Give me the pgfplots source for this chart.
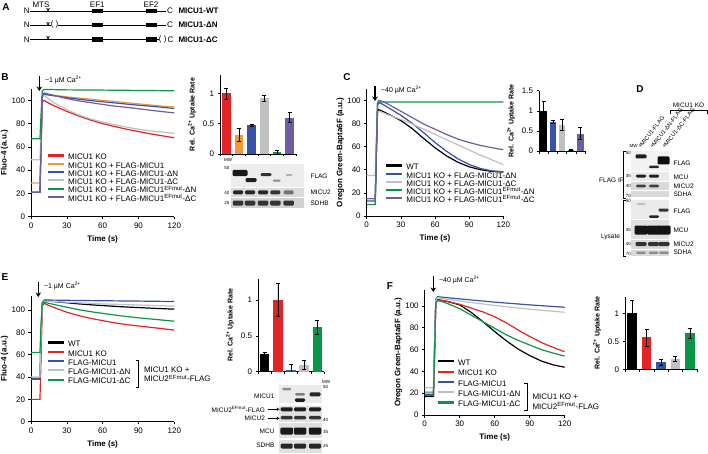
\documentclass[border=0pt]{standalone}
\usepackage{fontspec}
\setmainfont{Liberation Sans}
\usepackage{pgfplots}
\pgfplotsset{compat=1.18}
\usetikzlibrary{arrows.meta}

\definecolor{cred}{RGB}{226,36,36}
\definecolor{corange}{RGB}{242,152,58}
\definecolor{cblue}{RGB}{56,82,165}
\definecolor{cgray}{RGB}{192,192,192}
\definecolor{cgreen}{RGB}{10,150,70}
\definecolor{cpurple}{RGB}{112,92,160}

\newcommand{\efm}{\textsuperscript{EFmut}}
\newcommand{\cat}{Ca\textsuperscript{2+}}
\newcommand{\band}[5]{\fill[black!#5,rounded corners=1.2pt] ({#1-#3/2},{#2-#4/2}) rectangle ({#1+#3/2},{#2+#4/2});}

\pgfplotsset{
  base/.style={scale only axis, axis lines=left, axis line style={-,line width=0.6pt},
    tick style={black,line width=0.6pt}, tick align=outside, major tick length=2.5pt,
    font=\fontsize{8}{9}\selectfont, /pgf/number format/assume math mode=true, ymin=0},
  trace/.style={base, xmin=0, xmax=120, xtick={0,30,60,90,120}, ytick={0,20,...,100},
    xlabel={\bfseries Time (s)}, ylabel shift=-3.5pt, every axis plot/.append style={line width=1.2pt},
    legend cell align=left,
    legend image code/.code={\draw[##1,line width=2.2pt] (0pt,2.2pt) -- (16pt,2.2pt);},
    legend style={draw=none, fill=none, font=\fontsize{8}{8}\selectfont, inner sep=0pt,
      column sep=3pt, nodes={inner sep=0pt, text height=5.6pt, text depth=1.4pt}, anchor=north west}},
  rate/.style={base, xmin=0.5, xticklabels={}, ytick={0,0.5,1},
    ylabel={\bfseries\fontsize{7}{8}\selectfont Rel. \cat{} Uptake Rate}},
  rbar/.style={ybar, fill=#1, draw=none, bar shift=0pt,
    error bars/y dir=both, error bars/y explicit,
    error bars/error bar style={black,line width=0.5pt},
    error bars/error mark options={black,rotate=90,mark size=2pt,line width=0.5pt}}
}

\begin{document}
\begin{tikzpicture}
\useasboundingbox (0,0) rectangle (708pt,453pt);

% ---------------- B traces
\begin{axis}[trace, at={(31pt,236.3pt)}, anchor=south west, width=143.3pt, height=128pt, ymax=110,
  ylabel={\bfseries Fluo-4 (a.u.)}, legend style={at={(0.11,0.49)}, row sep=1.3pt}]
\addplot[cred] coordinates {(0,21)(7.5,21)(8.5,60)(9.5,99)(11,100)(15,97.5)(20,95)(30,90.5)(40,86.5)(50,83)(60,80)(70,77.5)(80,75.2)(90,73.2)(100,71.2)(110,69.5)(120,67.8)};
\addplot[corange] coordinates {(0,29)(7.5,29)(8.5,70)(9.5,104)(11,106)(15,105)(20,104.3)(30,103)(40,102)(50,101)(60,100)(70,99)(80,98)(90,97)(100,96)(110,95)(120,94.3)};
\addplot[cblue] coordinates {(0,21)(7.5,21)(8.5,65)(9.5,103)(11,105.2)(15,104.5)(20,103.8)(30,102.3)(40,101)(50,99.8)(60,98.8)(70,97.8)(80,96.8)(90,95.8)(100,95)(110,94)(120,93)};
\addplot[cgray] coordinates {(0,49)(7.5,49)(8.5,80)(9.5,103)(11,104.3)(15,101)(20,97.5)(30,92)(40,87.5)(50,84)(60,81.3)(70,79)(80,77)(90,75.2)(100,73.8)(110,72.7)(120,71.7)};
\addplot[cgreen] coordinates {(0,67)(7.5,67)(8.5,90)(9.5,108)(11,109.3)(15,109.3)(30,109)(60,108.8)(90,108.5)(120,108.2)};
\addplot[cpurple] coordinates {(0,21)(7.5,21)(8.5,65)(9.5,104)(11,106.3)(15,105.3)(20,104)(30,101.5)(40,99.5)(50,98)(60,96.5)(70,95)(80,94)(90,92.8)(100,91.5)(110,90.3)(120,89.2)};
\legend{MICU1 KO, MICU1 KO + FLAG-MICU1, MICU1 KO + FLAG-MICU1-ΔN, MICU1 KO + FLAG-MICU1-ΔC, MICU1 KO + FLAG-MICU1\efm-ΔN, MICU1 KO + FLAG-MICU1\efm-ΔC}
\end{axis}

% ---------------- B rates
\begin{axis}[rate, at={(220pt,299pt)}, anchor=south west, width=76pt, height=78.9pt,
  xmax=6.5, ymax=1.3, xtick={0.5,1.5,...,6.5}, bar width=8.5pt]
\addplot[rbar=cred] coordinates {(1,1.0) +- (0,0.09)};
\addplot[rbar=corange] coordinates {(2,0.32) +- (0,0.11)};
\addplot[rbar=cblue] coordinates {(3,0.47) +- (0,0.02)};
\addplot[rbar=cgray] coordinates {(4,0.92) +- (0,0.05)};
\addplot[rbar=cgreen] coordinates {(5,0.03) +- (0,0.03)};
\addplot[rbar=cpurple] coordinates {(6,0.60) +- (0,0.08)};
\end{axis}

% ---------------- C traces
\begin{axis}[trace, at={(366.7pt,237pt)}, anchor=south west, width=136.6pt, height=127.3pt, ymax=110,
  ylabel={\bfseries Oregon Green-Bapta6F (a.u.)}, legend style={at={(0.134,0.408)}, row sep=1.2pt}]
\addplot[black] coordinates {(0,15)(7.5,15)(8.5,55)(9.5,90)(10.5,92)(15,90)(20,87.5)(30,82.5)(40,75.5)(50,67)(60,59)(70,52)(80,46.5)(90,42.5)(100,40)(110,38.5)(120,38)};
\addplot[cblue] coordinates {(0,13)(7.5,13)(8.5,55)(9.5,96)(11,98)(15,96)(20,93)(30,87)(40,80)(50,72)(60,63.5)(70,56)(80,49.5)(90,44.5)(100,41)(110,39)(120,38.3)};
\addplot[cgray] coordinates {(0,35)(7.5,35)(8.5,70)(9.5,89)(11,90.5)(15,89)(20,87)(30,83.5)(40,79.5)(50,75)(60,70.5)(70,66)(80,61.5)(90,57)(100,52.5)(110,48.5)(120,44.5)};
\addplot[cgreen] coordinates {(0,10)(7.5,10)(8.5,55)(9.5,97)(11,98.5)(30,98.5)(60,98.5)(90,98.5)(120,98.5)};
\addplot[cpurple] coordinates {(0,15)(7.5,15)(8.5,60)(9.5,98)(11,100)(15,98.5)(20,96)(30,90.5)(40,85)(50,79.5)(60,75)(70,70.5)(80,66.5)(90,63.5)(100,61)(110,59)(120,57.3)};
\legend{WT, MICU1 KO + FLAG-MICU1-ΔN, MICU1 KO + FLAG-MICU1-ΔC, MICU1 KO + FLAG-MICU1\efm-ΔN, MICU1 KO + FLAG-MICU1\efm-ΔC}
\end{axis}

% ---------------- C rates
\begin{axis}[rate, at={(539pt,302pt)}, anchor=south west, width=46pt, height=60.3pt,
  xmax=5.5, ymax=1.5, xtick={0.5,1.5,...,5.5}, ytick={0,0.5,1,1.5}, bar width=6.5pt]
\addplot[rbar=black] coordinates {(1,1.0) +- (0,0.23)};
\addplot[rbar=cblue] coordinates {(2,0.72) +- (0,0.04)};
\addplot[rbar=cgray] coordinates {(3,0.65) +- (0,0.13)};
\addplot[rbar=cgreen] coordinates {(4,0.03) +- (0,0.02)};
\addplot[rbar=cpurple] coordinates {(5,0.43) +- (0,0.15)};
\end{axis}

% ---------------- E traces
\begin{axis}[trace, at={(31pt,31.3pt)}, anchor=south west, width=143.3pt, height=126.2pt, ymax=113,
  ylabel={\bfseries Fluo-4 (a.u.)}, legend style={at={(0.11,0.64)}, row sep=2.3pt}]
\addplot[black] coordinates {(0,39)(7.5,39)(8.5,80)(9.5,106)(11,108.5)(15,108)(20,107.5)(30,106.5)(40,105.5)(50,104.7)(60,104)(70,103.3)(80,102.7)(90,102.2)(100,101.7)(110,101.2)(120,100.8)};
\addplot[cred] coordinates {(0,20)(7.5,20)(8.5,60)(9.5,104)(11,106)(15,104)(20,102)(30,98)(40,95)(50,92.5)(60,90.5)(70,88.5)(80,87)(90,85.7)(100,84.5)(110,83.3)(120,82)};
\addplot[cblue] coordinates {(0,38)(7.5,38)(8.5,80)(9.5,107)(11,109)(30,108.7)(60,108.3)(90,108)(120,107.6)};
\addplot[cgray] coordinates {(0,40)(7.5,40)(8.5,80)(9.5,106)(11,108)(20,107.5)(30,107)(60,105.5)(90,104.5)(120,103.5)};
\addplot[cgreen] coordinates {(0,62)(7.5,62)(8.5,90)(9.5,106)(11,107)(15,106)(20,104.8)(30,102.5)(40,100.3)(50,98.5)(60,97)(70,95.5)(80,94.2)(90,93)(100,92)(110,91)(120,90)};
\legend{WT, MICU1 KO, FLAG-MICU1, FLAG-MICU1-ΔN, FLAG-MICU1-ΔC}
\end{axis}

% ---------------- E rates
\begin{axis}[rate, at={(258pt,81.3pt)}, anchor=south west, width=66pt, height=93.2pt,
  xmax=5.5, ymax=1.3, xtick={0.5,1.5,...,5.5}, bar width=9.5pt]
\addplot[rbar=black] coordinates {(1,0.24) +- (0,0.03)};
\addplot[rbar=cred] coordinates {(2,1.0) +- (0,0.23)};
\addplot[rbar=cblue] coordinates {(3,0.03) +- (0,0.08)};
\addplot[rbar=cgray] coordinates {(4,0.10) +- (0,0.06)};
\addplot[rbar=cgreen] coordinates {(5,0.62) +- (0,0.10)};
\end{axis}

% ---------------- F traces
\begin{axis}[trace, at={(424.7pt,38pt)}, anchor=south west, width=140pt, height=125.4pt, ymax=115,
  ylabel={\bfseries Oregon Green-Bapta6F (a.u.)}, legend style={at={(0.086,0.44)}, row sep=3.3pt}]
\addplot[black] coordinates {(0,17)(7.5,17)(8.5,60)(9.5,103)(11,106)(15,105)(20,104)(30,101)(40,94)(50,85.5)(60,76.5)(70,68)(80,60.5)(90,54.5)(100,49.5)(110,46)(120,43.8)};
\addplot[cred] coordinates {(0,18)(7.5,18)(8.5,60)(9.5,103)(11,105.5)(15,105)(20,104)(30,101.5)(40,98)(50,94.5)(60,90)(70,84.5)(80,78)(90,72)(100,66.5)(110,62)(120,58)};
\addplot[cblue] coordinates {(0,19)(7.5,19)(8.5,65)(9.5,106)(11,108.5)(20,107.5)(30,106.5)(60,103.5)(90,101)(120,98.8)};
\addplot[cgray] coordinates {(0,25)(7.5,25)(8.5,65)(9.5,105)(11,107.5)(20,106)(30,104.5)(60,100.5)(90,97)(120,94.2)};
\addplot[cgreen] coordinates {(0,21)(7.5,21)(8.5,60)(9.5,103)(11,105)(15,104)(20,102)(30,97.5)(40,91.5)(50,85.5)(60,79.5)(70,73.5)(80,68.5)(90,64.2)(100,60)(110,56.8)(120,54)};
\legend{WT, MICU1 KO, FLAG-MICU1, FLAG-MICU1-ΔN, FLAG-MICU1-ΔC}
\end{axis}

% ---------------- F rates
\begin{axis}[rate, at={(625pt,83.7pt)}, anchor=south west, width=72pt, height=72.8pt,
  xmax=5.5, ymax=1.3, xtick={0.5,1.5,...,5.5}, bar width=9.5pt]
\addplot[rbar=black] coordinates {(1,1.0) +- (0,0.24)};
\addplot[rbar=cred] coordinates {(2,0.57) +- (0,0.15)};
\addplot[rbar=cblue] coordinates {(3,0.13) +- (0,0.05)};
\addplot[rbar=cgray] coordinates {(4,0.19) +- (0,0.04)};
\addplot[rbar=cgreen] coordinates {(5,0.64) +- (0,0.09)};
\end{axis}

% ---------------- annotations, in pixel coordinates (y down)
\begin{scope}[x=1pt,y=-1pt,yshift=453pt,font=\fontsize{8}{9}\selectfont]
\foreach \l/\px/\py in {A/6/7,B/5/77,C/347/77,D/640/89,E/5/277,F/390/286}
  \node[font=\fontsize{10}{10}\selectfont\bfseries] at (\px,\py) {\l};

% panel A
\foreach \ry in {11,25,39.5} \node at (26.7,\ry) {N};
\node at (41,4.5) {MTS}; \node at (97.3,4.5) {EF1}; \node at (151,4.5) {EF2};
\draw[line width=0.5pt] (30,11) -- (166,11);
\draw[line width=0.5pt] (30,25) -- (51.3,25) (57.8,25) -- (166,25);
\draw[line width=0.5pt] (30,39.5) -- (158.5,39.5);
\foreach \ry in {11,25,39.5} {
  \node[font=\fontsize{7.5}{7}\selectfont\bfseries,inner sep=0pt] at (48.3,\ry-0.8) {x};
  \fill (91.7,\ry-2.2) rectangle (102.7,\ry+2.2);
  \fill (145.7,\ry-2.2) rectangle (156.7,\ry+2.2);}
\node[inner sep=0pt] at (52.3,24.6) {(}; \node[inner sep=0pt] at (57,24.6) {)};
\node[inner sep=0pt] at (160.3,39.1) {(}; \node[inner sep=0pt] at (165.2,39.1) {)};
\node at (170,11) {C}; \node at (170,25) {C}; \node at (170.5,39.5) {C};
\node[anchor=west,font=\fontsize{8}{9}\selectfont\bfseries] at (175,11) {MICU1-WT};
\node[anchor=west,font=\fontsize{8}{9}\selectfont\bfseries] at (175,25) {MICU1-ΔN};
\node[anchor=west,font=\fontsize{8}{9}\selectfont\bfseries] at (175,39.5) {MICU1-ΔC};

% Ca2+ additions
\draw[-{Stealth[length=4.5pt,width=5.5pt]},line width=1.1pt] (39.3,76) -- (39.3,91);
\node[anchor=west,font=\fontsize{7}{8}\selectfont] at (41.5,80) {\textasciitilde1 µM \cat};
\draw[-{Stealth[length=4.5pt,width=5.5pt]},line width=1.1pt] (375,86) -- (375,101);
\node[anchor=west,font=\fontsize{7}{8}\selectfont] at (377.5,89.5) {\textasciitilde40 µM \cat};
\draw[-{Stealth[length=4.5pt,width=5.5pt]},line width=1.1pt] (38.3,282) -- (38.3,297);
\node[anchor=west,font=\fontsize{7}{8}\selectfont] at (40.5,285.5) {\textasciitilde1 µM \cat};
\draw[-{Stealth[length=4.5pt,width=5.5pt]},line width=1.1pt] (433.3,276) -- (433.3,292);
\node[anchor=west,font=\fontsize{7}{8}\selectfont] at (435.5,279.5) {\textasciitilde40 µM \cat};

% E and F legend brackets
\draw[line width=0.6pt] (135.5,360) -- (138.5,360) -- (138.5,387) -- (135.5,387);
\node[anchor=west] at (140.5,369.3) {MICU1 KO +};
\node[anchor=west] at (140.5,378.5) {MICU2\efm-FLAG};
\draw[line width=0.6pt] (524,383.5) -- (527,383.5) -- (527,410) -- (524,410);
\node[anchor=west] at (529,396.5) {MICU1 KO +};
\node[anchor=west] at (529,406) {MICU2\efm-FLAG};

% B blot
\fill[black!7] (230.7,164) rectangle (304,186.7);
\fill[black!14] (230.7,188.3) rectangle (304,196.7);
\fill[black!18] (230.7,197.7) rectangle (304,208.3);
\band{240}{173}{15}{6}{90}
\band{251}{180}{11}{4}{88}
\band{266}{174.6}{11}{3}{80}
\band{276.7}{180.5}{8}{2}{45}
\band{289}{175}{7}{2}{30}
\foreach \lx/\s in {238/85,250/85,263/85,275.3/80,288.7/55} {\band{\lx}{192.3}{10}{4}{\s}}
\foreach \lx in {238,250,263,275.3,288.7} {\band{\lx}{203}{10.5}{5}{80}}
\begin{scope}[font=\fontsize{6.5}{7}\selectfont]
\node[anchor=west] at (307,176) {FLAG};
\node[anchor=west] at (307,192.5) {MICU2};
\node[anchor=west] at (307,203) {SDHB};
\end{scope}
\begin{scope}[font=\fontsize{4.5}{5}\selectfont,inner sep=0.5pt]
\node at (228,160) {MW};
\node[anchor=east] at (230,167.5) {50};
\node[anchor=east] at (230,193) {40};
\node[anchor=east] at (230,203) {25};
\end{scope}

% D blot
\fill[black!5] (631,151) rectangle (669.3,171);
\fill[black!8] (631,172) rectangle (669.3,181);
\fill[black!15] (631,182) rectangle (669.3,189.5);
\fill[black!15] (631,190.5) rectangle (669.3,197);
\fill[black!8] (631,200) rectangle (669.3,218.5);
\fill[black!12] (631,220) rectangle (669.3,239);
\fill[black!15] (631,240) rectangle (669.3,248.5);
\fill[black!15] (631,249.5) rectangle (669.3,256);
\band{641}{156.5}{11}{4}{88}
\band{654}{167}{10}{2.5}{85}
\band{663.5}{160.5}{12}{8}{95}
\band{641}{176}{10}{3}{88} \band{654}{176}{10}{3}{88}
\band{641}{186}{10}{2.8}{75} \band{654}{186}{10}{2.8}{75}
\band{641}{204}{9}{2}{25}
\band{654}{216.5}{10}{2.5}{85}
\band{663.5}{210}{10}{3}{80}
\foreach \lx in {641,653.5,664} {\band{\lx}{230}{13}{9}{92}}
\foreach \lx in {641,653.5,664} {\band{\lx}{244}{11}{4}{80}}
\foreach \lx in {641,653.5,664} {\band{\lx}{252.7}{10}{2.2}{45}}
\begin{scope}[font=\fontsize{6.5}{7}\selectfont]
\node[anchor=west] at (670,163.3) {FLAG};
\node[anchor=west] at (670,177) {MCU};
\node[anchor=west] at (670,186) {MICU2};
\node[anchor=west] at (670,193.8) {SDHA};
\node[anchor=west] at (670,211) {FLAG};
\node[anchor=west] at (670,230) {MCU};
\node[anchor=west] at (670,244) {MICU2};
\node[anchor=west] at (670,252.7) {SDHA};
\node at (611.7,180) {FLAG IP};
\node at (610.5,236.7) {Lysate};
\node at (688.5,105.5) {MICU1 KO};
\foreach \lx/\txt in {641/{+MICU1-FLAG},653/{+MICU1-ΔN-FLAG},665/{+MICU1-ΔC-FLAG}}
  \node[rotate=52,anchor=south west,inner sep=0.5pt,font=\fontsize{5.9}{6}\selectfont] at (\lx,150) {\txt};
\end{scope}
\draw[line width=0.5pt] (670,114) -- (670,110.5) -- (707,110.5) -- (707,114);
\draw[line width=0.5pt] (626,151.7) -- (623.3,151.7) -- (623.3,198.3) -- (626,198.3);
\draw[line width=0.5pt] (626,200) -- (623.3,200) -- (623.3,256) -- (626,256);
\begin{scope}[font=\fontsize{4.5}{5}\selectfont,inner sep=0.5pt]
\node at (633.5,145.5) {MW};
\foreach \yy/\mw in {152.5/50,176/35,186/40,196/70,201/50,230/35,244/40,254/70}
  \node[anchor=east] at (631.5,\yy) {\mw};
\end{scope}

% E blot
\fill[black!8] (279.3,385) rectangle (321.7,403.3);
\fill[black!12] (279.3,405.7) rectangle (321.7,421.7);
\fill[black!12] (279.3,423.3) rectangle (321.7,438.3);
\fill[black!12] (279.3,440) rectangle (321.7,453);
\band{286.7}{389}{9}{2.5}{45}
\band{300}{394.3}{10}{2.5}{50}
\band{300}{400}{10}{3.5}{88}
\band{315}{394.3}{11}{4}{85}
\foreach \lx in {286.7,300,315} {\band{\lx}{409.3}{12}{4}{88} \band{\lx}{417.7}{12}{3.5}{80} \band{\lx}{431}{12.5}{7}{90} \band{\lx}{446}{12}{5}{85}}
\begin{scope}[font=\fontsize{6.5}{7}\selectfont]
\node[anchor=east] at (278,396) {MICU1};
\node[anchor=east] at (268.5,409.3) {MICU2\efm-FLAG};
\node[anchor=east] at (268.5,418.3) {MICU2};
\node[anchor=east] at (278,431) {MCU};
\node[anchor=east] at (278,445.5) {SDHB};
\end{scope}
\draw[-{Stealth[length=3pt,width=3.5pt]},line width=0.8pt] (267.5,409.3) -- (279.5,409.3);
\draw[-{Stealth[length=3pt,width=3.5pt]},line width=0.8pt] (267.5,418.3) -- (279.5,418.3);
\begin{scope}[font=\fontsize{4.5}{5}\selectfont,inner sep=0.5pt]
\node[anchor=west] at (321.5,381.7) {MW};
\foreach \yy/\mw in {387.3/50,420/40,432.3/35,446/25}
  \node[anchor=west] at (322.5,\yy) {\mw};
\end{scope}
\end{scope}
\end{tikzpicture}
\end{document}
